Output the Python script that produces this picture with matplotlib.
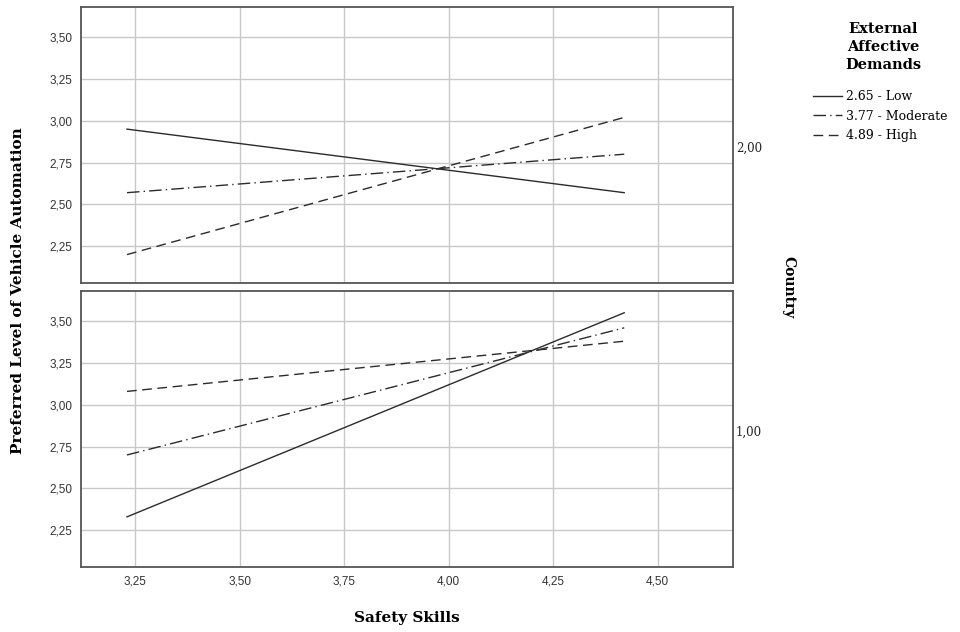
import numpy as np
import matplotlib
matplotlib.use('Agg')
import matplotlib.pyplot as plt
from matplotlib.ticker import FuncFormatter
from matplotlib.lines import Line2D

# data
skills = [3.23, 4.42]
levels = ['2.65 - Low', '3.77 - Moderate', '4.89 - High']
# country 2,00 (top panel)
top_low = [2.95, 2.57]
top_mod = [2.57, 2.80]
top_high = [2.20, 3.02]
# country 1,00 (bottom panel)
bot_low = [2.33, 3.55]
bot_mod = [2.70, 3.46]
bot_high = [3.08, 3.38]

xticks = [3.25, 3.50, 3.75, 4.00, 4.25, 4.50]
yticks = [2.25, 2.50, 2.75, 3.00, 3.25, 3.50]

serif = 'DejaVu Serif'
tickfont = 'Liberation Sans'
col = '#2b2b2b'
styles = ['-', (0, (9, 3, 1, 3)), (0, (7, 4))]

fig = plt.figure(figsize=(9.6, 6.32), dpi=100)
ax_top = fig.add_axes([0.0844, 0.5522, 0.679, 0.4367])
ax_bot = fig.add_axes([0.0844, 0.1028, 0.679, 0.4367])

comma = FuncFormatter(lambda v, p: ('%.2f' % v).replace('.', ','))

def style_axis(ax, series, panel_label, show_x):
    for vals, ls in zip(series, styles):
        ax.plot(skills, vals, color=col, linestyle=ls, linewidth=1.0)
    ax.set_xlim(3.12, 4.68)
    ax.set_ylim(2.03, 3.68)
    ax.set_xticks(xticks)
    ax.set_yticks(yticks)
    ax.xaxis.set_major_formatter(comma)
    ax.yaxis.set_major_formatter(comma)
    ax.grid(True, color='#c8c8c8', linewidth=1.0)
    ax.set_axisbelow(True)
    ax.tick_params(length=0, labelsize=8.5, colors='#333333', pad=6)
    for lab in ax.get_xticklabels() + ax.get_yticklabels():
        lab.set_fontfamily(tickfont)
    if not show_x:
        ax.tick_params(labelbottom=False)
    for s in ax.spines.values():
        s.set_color('#555555')
        s.set_linewidth(1.3)
    ax.text(1.005, 0.49, panel_label, transform=ax.transAxes, ha='left',
            va='center', fontsize=8.5, family=serif, color='#222222')

style_axis(ax_top, [top_low, top_mod, top_high], '2,00', False)
style_axis(ax_bot, [bot_low, bot_mod, bot_high], '1,00', True)

fig.text(0.019, 0.54, 'Preferred Level of Vehicle Automation', rotation=90,
         ha='center', va='center', fontsize=11, fontweight='bold', family=serif)
fig.text(0.424, 0.022, 'Safety Skills', ha='center', va='center',
         fontsize=11, fontweight='bold', family=serif)
fig.text(0.821, 0.545, 'Country', rotation=-90, ha='center', va='center',
         fontsize=10, fontweight='bold', family=serif)

# legend title, drawn separately so it stays centred above the entries
fig.text(0.920, 0.926, 'External\nAffective\nDemands', ha='center', va='center',
         multialignment='center', fontsize=10.5, fontweight='bold', family=serif,
         linespacing=1.35)

handles = [Line2D([], [], color=col, linestyle=ls, linewidth=1.0) for ls in styles]
leg = fig.legend(handles, levels, loc='upper left', bbox_to_anchor=(0.847, 0.857),
                 frameon=False, handlelength=2.3, handletextpad=0.3,
                 labelspacing=0.5, borderpad=0, borderaxespad=0,
                 prop={'family': serif, 'size': 9})

fig.savefig('out.png', dpi=100)
